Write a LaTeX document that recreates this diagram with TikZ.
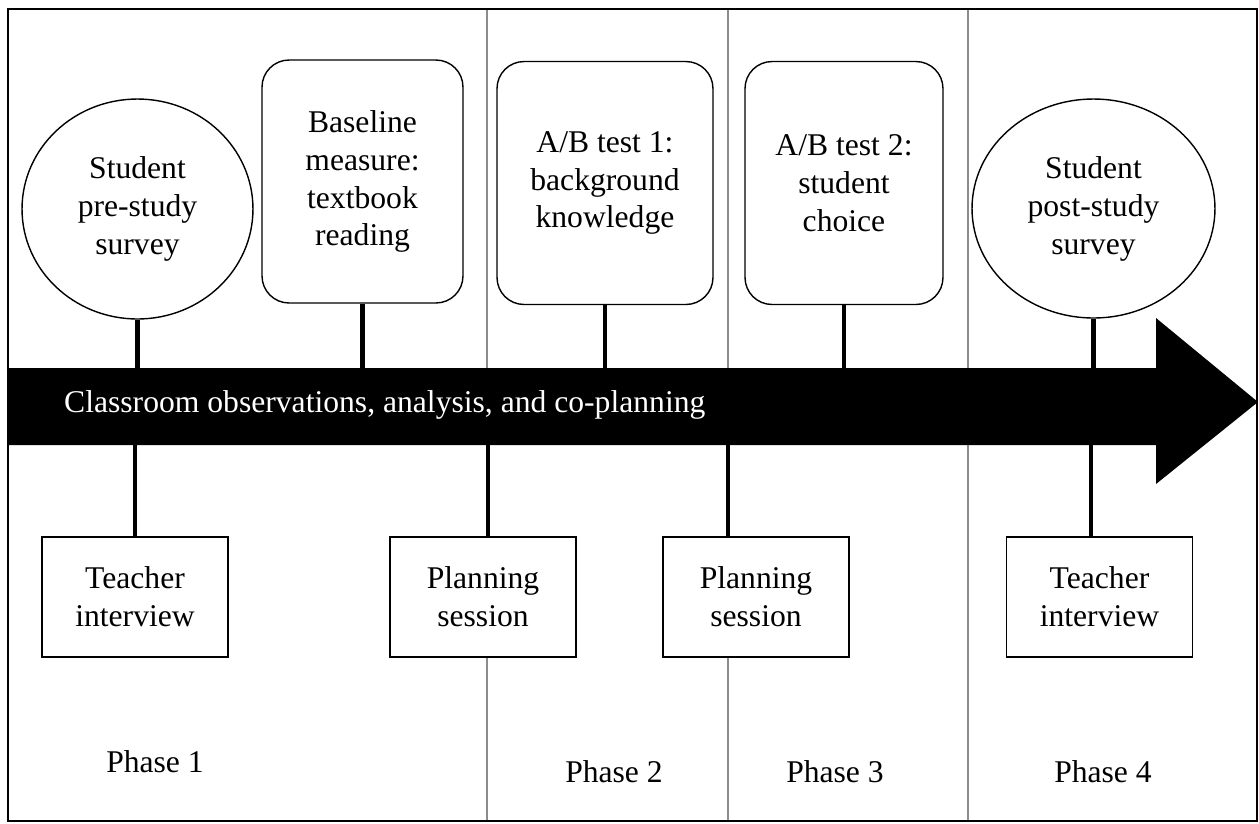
\documentclass[tikz,border=0pt]{standalone}
\usepackage{fontspec}
\setmainfont{Liberation Serif}
\usetikzlibrary{shapes.geometric}

\tikzset{
  txt/.style={font=\fontsize{18}{21.6}\selectfont, align=center},
  survey/.style={txt, draw, ellipse, fill=white, line width=0.8pt, inner sep=0pt},
  event/.style={txt, draw, fill=white, line width=0.8pt, rounded corners=0.54cm,
    minimum height=4.86cm},
  meeting/.style={txt, draw, fill=white, line width=1pt, minimum width=3.72cm,
    minimum height=2.4cm},
  stem/.style={line width=2.3pt},
  divider/.style={draw=black!45, line width=0.8pt},
  phase/.style={txt}
}

\begin{document}
\begin{tikzpicture}[x=0.02cm, y=-0.02cm]
      \useasboundingbox (0,0) rectangle (1259,823);

      % Phase dividers
      \foreach \x [count=\i] in {487,728,968} {
        \draw[divider] (\x,9) -- (\x,821);
      }

      % Timeline arrow
      \fill (8,368) -- (1156,368) -- (1156,318) -- (1258,402)
        -- (1156,484) -- (1156,445) -- (8,445) -- cycle;
      \coordinate (arrtop) at (0,368);
      \node[txt, white, anchor=west] (flow) at (58,405)
        {Classroom observations, analysis, and co-planning};

      % Events above the arrow
      \node[survey, minimum width=4.62cm, minimum height=4.4cm] (pre) at (137.5,209)
        {Student\\pre-study\\survey};
      \node[event, minimum width=4.02cm] (base) at (362.5,181.5)
        {Baseline\\measure:\\textbook\\reading};
      \node[event, minimum width=4.32cm] (abone) at (605,183)
        {A/B test 1:\\background\\knowledge};
      \node[event, minimum width=3.96cm] (abtwo) at (844,183)
        {A/B test 2:\\student\\choice};
      \node[survey, minimum width=4.86cm, minimum height=4.38cm] (post) at (1093.5,208.5)
        {Student\\post-study\\survey};

      \foreach \n in {pre,base,abone,abtwo,post} {
        \draw[stem] (\n.south) -- (\n.south |- arrtop);
      }

      % Meetings below the arrow
      \node[meeting] (tione) at (135,597) {Teacher\\interview};
      \node[meeting] (plone) at (483,597) {Planning\\session};
      \node[meeting] (pltwo) at (756,597) {Planning\\session};
      \node[meeting] (titwo) at (1099.5,597) {Teacher\\interview};

      \foreach \n/\x in {tione/135, plone/488, pltwo/728, titwo/1091} {
        \coordinate (s\n) at (\x,445);
        \draw[stem] (s\n) -- (s\n |- \n.north);
      }

      % Phase labels
      \foreach \x/\y [count=\i] in {155/762, 614/772, 835/772, 1103/772} {
        \node[phase] (phase\i) at (\x,\y) {Phase \i};
      }

      % Frame
      \draw[line width=1.2pt] (8,9) rectangle (1257,821);
    \end{tikzpicture}
\end{document}
